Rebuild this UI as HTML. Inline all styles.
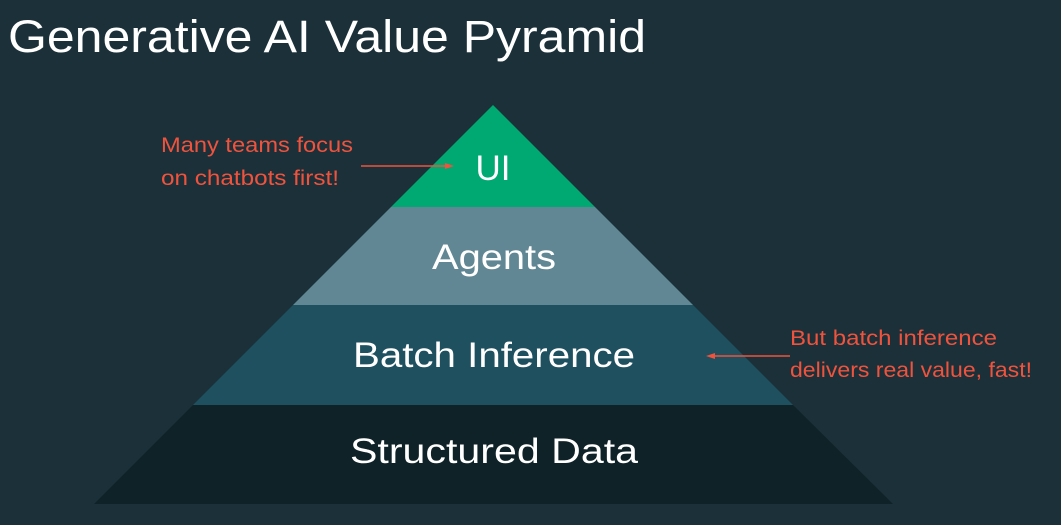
<!DOCTYPE html>
<html><head><style>
html,body{margin:0;padding:0;background:#1b3039;}
svg{display:block;}
text{font-family:"Liberation Sans",sans-serif;}
</style></head><body>
<svg width="1061" height="525" viewBox="0 0 1061 525">
<rect width="1061" height="525" fill="#1b3039"/>
<text x="8" y="52" font-size="45" fill="#ffffff" textLength="638" lengthAdjust="spacingAndGlyphs">Generative AI Value Pyramid</text>
<polygon points="493,105 391,207 595,207" fill="#00a972"/>
<polygon points="391,207 595,207 693,305 293,305" fill="#618794"/>
<polygon points="293,305 693,305 793,405 193,405" fill="#1f5060"/>
<polygon points="193,405 793,405 893,504 94,504" fill="#0e2228"/>
<g fill="#ffffff" font-size="35" text-anchor="middle">
<text x="493" y="180">UI</text>
<text x="494" y="269" textLength="124" lengthAdjust="spacingAndGlyphs">Agents</text>
<text x="494" y="367" textLength="282" lengthAdjust="spacingAndGlyphs">Batch Inference</text>
<text x="494" y="463" textLength="288" lengthAdjust="spacingAndGlyphs">Structured Data</text>
</g>
<g fill="#f0533d" font-size="21">
<text x="161" y="152" textLength="192" lengthAdjust="spacingAndGlyphs">Many teams focus</text>
<text x="161" y="185" textLength="178" lengthAdjust="spacingAndGlyphs">on chatbots first!</text>
<text x="790" y="345" textLength="207" lengthAdjust="spacingAndGlyphs">But batch inference</text>
<text x="790" y="377" textLength="242" lengthAdjust="spacingAndGlyphs">delivers real value, fast!</text>
</g>
<line x1="361" y1="166" x2="448" y2="166" stroke="#f0533d" stroke-width="1.5"/>
<polygon points="454,166 445,163 445,169" fill="#f0533d"/>
<line x1="790" y1="356" x2="712" y2="356" stroke="#f0533d" stroke-width="1.5"/>
<polygon points="706,356 715,353 715,359" fill="#f0533d"/>
</svg>
</body></html>
